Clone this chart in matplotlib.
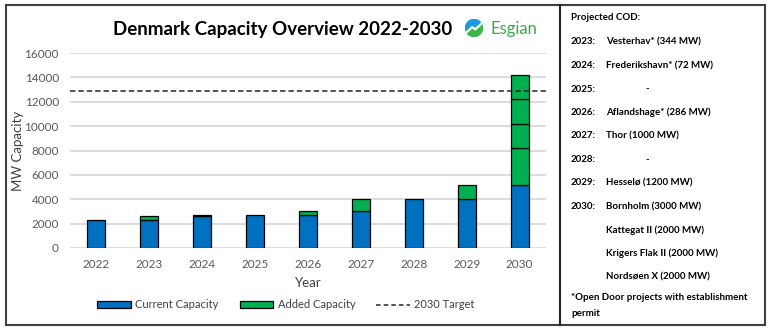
import matplotlib
matplotlib.use("Agg")
import matplotlib.pyplot as plt
from matplotlib.patches import Patch, Rectangle, Wedge
from matplotlib.lines import Line2D
import numpy as np

plt.rcParams['font.family'] = ['Lato', 'DejaVu Sans']

# ---- data ----
years = ['2022', '2023', '2024', '2025', '2026', '2027', '2028', '2029', '2030']
current = [2300, 2300, 2644, 2716, 2716, 3002, 4002, 4002, 5202]
added_1 = [0, 344, 72, 0, 286, 1000, 0, 1200, 3000]
added_2 = [0, 0, 0, 0, 0, 0, 0, 0, 2000]
added_3 = [0, 0, 0, 0, 0, 0, 0, 0, 2000]
added_4 = [0, 0, 0, 0, 0, 0, 0, 0, 2000]
target_2030 = 12900
y_ticks = [0, 2000, 4000, 6000, 8000, 10000, 12000, 14000, 16000]

cod_years = ['2023:', '2024:', '2025:', '2026:', '2027:', '2028:', '2029:', '2030:', '', '', '']
cod_projects = ['Vesterhav* (344 MW)', 'Frederikshavn* (72 MW)', '-', 'Aflandshage* (286 MW)',
                'Thor (1000 MW)', '-', 'Hesselø (1200 MW)', 'Bornholm (3000 MW)',
                'Kattegat II (2000 MW)', 'Krigers Flak II (2000 MW)', 'Nordsøen X (2000 MW)']

BLUE = '#0070C0'
GREEN = '#00B050'
W, H = 768, 331

fig = plt.figure(figsize=(W / 100, H / 100), dpi=100)

def fx(x):
    return x / W

def fy(y):
    return 1 - y / H

# plot area
ax = fig.add_axes([fx(70), fy(248), fx(546) - fx(70), fy(53) - fy(248)])
x = np.arange(len(years))
bw = 0.34
ax.bar(x, current, bw, color=BLUE, edgecolor='black', linewidth=0.9, zorder=3)
bottom = np.array(current, dtype=float)
for seg in (added_1, added_2, added_3, added_4):
    seg = np.array(seg, dtype=float)
    m = seg > 0
    ax.bar(x[m], seg[m], bw, bottom=bottom[m], color=GREEN, edgecolor='black',
           linewidth=0.9, zorder=3)
    bottom = bottom + seg
ax.axhline(target_2030, color='#262626', linestyle=(0, (3.5, 2)), linewidth=1.1, zorder=4)

ax.set_xlim(-0.5, len(years) - 0.5)
ax.set_ylim(0, 16000)
ax.set_yticks(y_ticks)
ax.set_yticklabels([str(v) for v in y_ticks])
ax.set_xticks(x)
ax.set_xticklabels(years)
ax.grid(axis='y', color='#d9d9d9', linewidth=1.3, zorder=0)
for s in ax.spines.values():
    s.set_visible(False)
ax.tick_params(axis='both', length=0, labelsize=8.5, colors='#595959')
ax.tick_params(axis='y', pad=8)
ax.tick_params(axis='x', pad=8)
ax.set_xlabel('Year', fontsize=9.5, color='#404040', labelpad=5)
ax.set_ylabel('MW Capacity', fontsize=9.5, color='#404040')
ax.yaxis.set_label_coords((24 - 70) / 476, 0.5)

# title
fig.text(fx(283), fy(30), 'Denmark Capacity Overview 2022-2030', fontsize=13.5,
         fontweight='bold', ha='center', va='center', color='black')

# logo
lax = fig.add_axes([fx(465), fy(37), 18 / W, 18 / H])
lax.set_xlim(-1, 1)
lax.set_ylim(-1, 1)
lax.set_aspect('equal')
lax.axis('off')
lax.add_patch(Wedge((0, 0), 0.95, 20, 200, color='#1E9BE0'))
lax.add_patch(Wedge((0, 0), 0.95, 200, 380, color='#3DB54A'))
lax.plot([-0.8, -0.2, 0.15, 0.85], [-0.45, 0.1, -0.15, 0.5], color='white', linewidth=1.6)
fig.text(fx(491), fy(29), 'Esgian', fontsize=12, color='#3DAA4A', ha='left', va='center')

# legend
handles = [Patch(facecolor=BLUE, edgecolor='black', linewidth=0.9),
           Patch(facecolor=GREEN, edgecolor='black', linewidth=0.9),
           Line2D([0], [0], color='#262626', linestyle=(0, (3, 2)), linewidth=1.1)]
labels = ['Current Capacity', 'Added Capacity', '2030 Target']
fig.legend(handles, labels, loc='center', bbox_to_anchor=(fx(286), fy(305)), ncol=3,
           frameon=False, fontsize=8, handlelength=3.0, handleheight=0.6,
           columnspacing=1.9, handletextpad=0.4, labelcolor='#404040')

# borders
fig.add_artist(Rectangle((fx(6), fy(325)), fx(765) - fx(6), fy(5) - fy(325),
                         transform=fig.transFigure, fill=False, edgecolor='#404040',
                         linewidth=1.5))
fig.add_artist(Line2D([fx(560), fx(560)], [fy(5), fy(325)], transform=fig.transFigure,
                      color='#262626', linewidth=1.5))

# side panel
fs = 7
fig.text(fx(571), fy(18), 'Projected COD:', fontsize=fs, fontweight='bold', va='center')
y0 = 42
dy = 23.5
for i, (yr, pr) in enumerate(zip(cod_years, cod_projects)):
    yy = y0 + i * dy
    if yr:
        fig.text(fx(571), fy(yy), yr, fontsize=fs, fontweight='bold', va='center')
    xp = 645 if pr == '-' else 606
    fig.text(fx(xp), fy(yy), pr, fontsize=fs, fontweight='bold', va='center')
fig.text(fx(571), fy(298), '*Open Door projects with establishment', fontsize=fs,
         fontweight='bold', va='center')
fig.text(fx(571), fy(314), 'permit', fontsize=fs, fontweight='bold', va='center')

fig.savefig('out.png', dpi=100)
